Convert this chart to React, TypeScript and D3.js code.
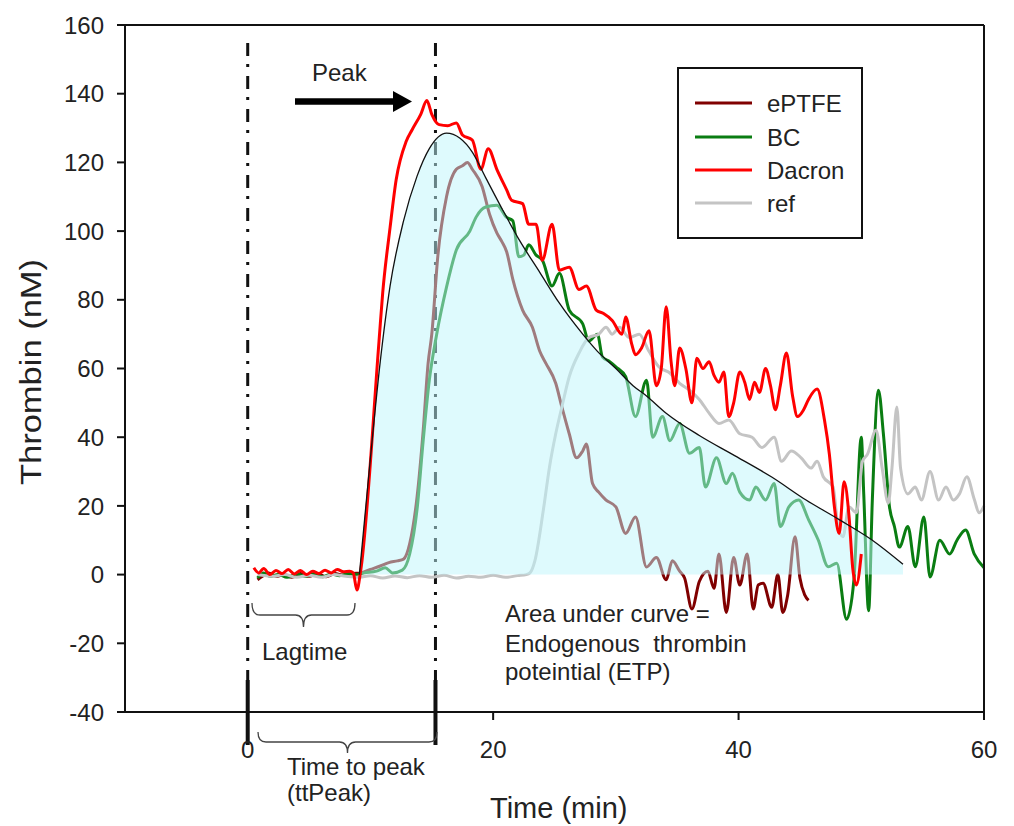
import React from "react";
import * as d3 from "d3";

const W = 1014;
const H = 826;

const xTicks = [0, 20, 40, 60];
const yTicks = [-40, -20, 0, 20, 40, 60, 80, 100, 120, 140, 160];

const seriesNames = ["ePTFE", "BC", "Dacron", "ref"];
const seriesColors = ["#800000", "#0a7d12", "#ff0000", "#c4c4c4"];

const ePTFE: [number, number][] = [
  [0.8, -1.5], [1.2, -0.5], [1.7, 0.5], [2.3, -0.5], [3.0, 0], [3.6, -0.8], [4.3, 0.3], [5.0, -0.5],
  [5.7, 0.2], [6.4, -0.6], [7.1, 0.3], [7.8, -0.2], [8.5, 0.3], [9.2, 0.5], [10.0, 1.5], [10.8, 2.5],
  [11.5, 3.5], [12.2, 4], [12.7, 4.5], [13.2, 9], [13.8, 22.6], [14.3, 42], [14.7, 61.5], [15.0, 70],
  [15.5, 93], [16.2, 110], [17.0, 118], [17.5, 119], [17.9, 120], [18.3, 118], [19.1, 113], [19.7, 105],
  [20.3, 99.5], [20.7, 97], [21.1, 94], [21.6, 86], [22.4, 77], [23.2, 72], [23.8, 65], [24.3, 61.5],
  [25.1, 55.7], [25.6, 48.8], [26.2, 41], [26.8, 34], [27.3, 36], [27.6, 38], [28.1, 26.5], [28.6, 24],
  [29.2, 21.7], [30.0, 19.7], [30.8, 12], [31.6, 16.8], [32.5, 2.2], [33.3, 5], [34.1, -1.5], [34.6, 4],
  [35.2, 1], [35.6, -1], [36.2, -10], [36.8, -2], [37.5, 1], [38.0, -4], [38.4, 6], [39.0, -11],
  [39.6, 5], [40.1, -3], [40.7, 6], [41.2, -10], [41.6, -3], [42.0, -2.5], [42.7, -9.5], [43.2, 0],
  [43.6, -11], [44.0, -6], [44.6, 11], [45.0, -1], [45.4, -6], [45.7, -7.5],
];

const BC: [number, number][] = [
  [0.8, -1], [1.3, 0.5], [1.8, -0.5], [2.5, 0], [3.2, -0.8], [4.0, 0.2], [4.7, -0.5], [5.4, 0.3],
  [6.1, -0.6], [6.8, 0.2], [7.5, -0.3], [8.2, 0.3], [8.8, 0], [9.5, 0.5], [10.5, 1], [11.2, 2],
  [11.8, 0.5], [12.6, 1.3], [13.2, 6], [13.8, 19], [14.3, 39], [14.8, 56.6], [15.4, 70], [16.2, 83.7],
  [17.0, 94.5], [18.1, 100], [18.6, 104], [19.4, 107], [20.3, 107.5], [21.1, 104], [21.6, 103], [22.1, 92.5],
  [22.5, 93], [22.9, 96], [23.5, 93], [24.0, 91.6], [24.8, 84], [25.4, 87.7], [26.2, 77], [27.3, 73],
  [27.8, 68], [28.5, 70], [28.9, 63.4], [29.5, 62], [30.0, 60.5], [30.8, 57.6], [31.6, 46], [32.5, 56.6],
  [33.0, 40], [33.8, 46], [34.4, 39], [35.2, 44], [36.0, 35.3], [36.8, 37], [37.3, 25.5], [38.2, 34],
  [39.0, 26.5], [39.5, 29.5], [40.1, 24], [40.9, 21.7], [41.4, 25.5], [42.2, 21.7], [42.9, 26.5], [43.4, 14],
  [44.1, 19.7], [44.9, 21.7], [45.7, 16], [46.5, 10], [47.3, 2.3], [48.0, 3.3], [48.8, -13], [49.4, -1.5],
  [50.0, 40], [50.2, 23.5], [50.6, -10.5], [50.9, 21.7], [51.4, 53.7], [51.8, 41], [52.3, 19.7], [52.7, 14],
  [53.1, 8], [53.8, 14], [54.4, 2.3], [55.1, 16.8], [55.6, -0.7], [56.4, 10], [57.2, 6], [57.8, 10],
  [58.5, 13], [59.2, 6], [60, 2],
];

const Dacron: [number, number][] = [
  [0.5, 2], [0.9, 0.5], [1.3, 1.8], [1.8, 0], [2.3, 1.2], [2.8, 0.3], [3.3, 1.5], [3.8, 0.2],
  [4.3, 1.2], [4.8, 0], [5.3, 1], [5.8, 0.3], [6.3, 1.3], [6.8, 0.5], [7.3, 1.5], [7.8, 0.8],
  [8.3, 1], [8.6, 0.5], [8.9, -4.5], [9.2, 1], [10.7, 68], [11.0, 82], [11.6, 101], [12.1, 115],
  [12.9, 126], [13.4, 129.5], [14.1, 134], [14.6, 138], [15.0, 134], [15.6, 131], [16.3, 130.7], [17.0, 131.5],
  [17.5, 128], [18.3, 126.5], [19.0, 118], [19.6, 124], [20.3, 118], [21.1, 112], [21.5, 109], [22.4, 108],
  [22.9, 102], [23.5, 102], [24.0, 91.5], [24.8, 102], [25.4, 88.6], [26.2, 89.5], [27.0, 83], [27.6, 84],
  [28.4, 77], [29.0, 76], [29.7, 74], [30.5, 70], [30.8, 75], [31.3, 67], [31.6, 64], [32.1, 66],
  [32.7, 71], [33.3, 55], [33.7, 60], [34.1, 78], [34.5, 62], [34.8, 55], [35.2, 66], [35.7, 60],
  [36.2, 50], [36.6, 63], [37.1, 60], [37.6, 62], [38.0, 58], [38.4, 56], [38.8, 59], [39.2, 46],
  [39.6, 50], [40.1, 59], [40.5, 56], [40.9, 51], [41.3, 56], [41.7, 53], [42.2, 60], [42.6, 55],
  [43.0, 48], [43.4, 55], [43.9, 64.5], [44.4, 52], [44.8, 46], [45.3, 48], [45.7, 51], [46.4, 54],
  [47.0, 45], [47.4, 35], [47.8, 20], [48.2, 12], [48.6, 27], [49.0, 17], [49.3, 2], [49.6, -3], [50.0, 6],
];

const ref: [number, number][] = [
  [0.8, 0], [2, -0.5], [3, 0], [4, -0.8], [5, -0.2], [6, -0.8], [7, 0], [8, -0.5], [9, -0.8],
  [10, -0.3], [11, -1], [12, -0.4], [13, -0.9], [14, -0.3], [15, -0.8], [16, -0.2], [17, -1],
  [18, -0.5], [19, -0.8], [20, -0.2], [21, -0.8], [22, -0.3], [22.7, 0], [23.0, 0.5], [23.4, 4],
  [24.1, 19], [24.6, 31.5], [25.1, 41], [25.6, 48.8], [26.2, 57.6], [27.0, 64.5], [27.8, 69], [28.6, 70],
  [29.2, 72], [29.7, 70], [30.3, 72], [31.1, 69], [31.9, 70], [32.7, 65], [33.5, 60.5], [34.4, 58.7],
  [35.2, 55.7], [36.0, 53.7], [36.8, 51], [37.6, 47], [38.4, 44], [39.2, 45], [40.1, 41], [41.1, 40],
  [41.9, 37], [42.9, 40], [43.5, 33], [44.3, 36], [45.1, 34], [45.9, 31], [46.4, 33], [46.9, 28.5],
  [47.7, 25.5], [48.1, 14], [48.5, 11], [49.0, 19.7], [49.6, 18], [50.1, 33], [50.5, 35], [51.2, 42],
  [51.7, 31], [52.2, 20.8], [52.5, 31], [52.9, 48.8], [53.2, 31], [53.8, 23.5], [54.4, 25.5], [54.9, 21.7],
  [55.6, 30], [56.3, 21.7], [56.9, 25.5], [57.5, 21.7], [58.0, 23.5], [58.6, 28.5], [59.2, 22], [59.6, 18], [60, 20],
];

const fitCurve: [number, number][] = [
  [9.1, 0], [10.0, 34], [10.8, 62], [11.6, 84], [12.7, 103], [13.8, 116], [14.8, 124], [16.2, 128.5],
  [17.3, 127], [18.3, 123], [19.4, 115.5], [20.8, 106], [22.2, 97], [23.8, 88], [25.4, 79], [27.3, 70],
  [28.5, 65], [30.0, 60], [31.4, 55], [32.5, 52], [34.1, 47], [36.8, 40.5], [39.5, 35], [42.7, 28.4],
  [45.5, 21.7], [48.2, 16], [50.9, 10], [53.4, 3],
];

const lagStart = 0;
const peakTime = 15.3;

const FONT = "'Liberation Sans', Arial, sans-serif";
const TXT = "#222";

export default function App() {
  const x = d3.scaleLinear().domain([-10, 60]).range([125, 984]);
  const y = d3.scaleLinear().domain([-40, 160]).range([712, 25]);

  const line = d3
    .line<[number, number]>()
    .x((d) => x(d[0]))
    .y((d) => y(d[1]))
    .curve(d3.curveMonotoneX);

  const fitLine = d3
    .line<[number, number]>()
    .x((d) => x(d[0]))
    .y((d) => y(d[1]))
    .curve(d3.curveMonotoneX);

  const fitArea = d3
    .area<[number, number]>()
    .x((d) => x(d[0]))
    .y0(() => y(0))
    .y1((d) => y(d[1]))
    .curve(d3.curveMonotoneX);

  const series = [ePTFE, BC, Dacron, ref];

  const brace = (x1: number, x2: number, y0: number, y1: number, y2: number) => {
    const xm = (x1 + x2) / 2;
    const r = 8;
    return `M${x1},${y0} Q${x1},${y1} ${x1 + r},${y1} L${xm - r},${y1} Q${xm},${y1} ${xm},${y2} Q${xm},${y1} ${xm + r},${y1} L${x2 - r},${y1} Q${x2},${y1} ${x2},${y0}`;
  };

  const xl = x(-10);
  const xr = x(60);
  const yt = y(160);
  const yb = y(-40);

  const legendRows = [103, 137, 170, 203];

  return (
    <svg
      width={W}
      height={H}
      style={{ position: "absolute", left: 0, top: 0, background: "#fff" }}
      fontFamily={FONT}
    >
      <rect x={0} y={0} width={W} height={H} fill="#fff" />

      {[lagStart, peakTime].map((t, i) => (
        <g key={"v" + i}>
          <line x1={x(t)} x2={x(t)} y1={43} y2={680} stroke="#111" strokeWidth={3} strokeDasharray="13,8,3,9" />
          <line x1={x(t)} x2={x(t)} y1={680} y2={745} stroke="#111" strokeWidth={4} />
        </g>
      ))}

      {[0, 1, 3].map((i) => (
        <path key={"s" + i} d={line(series[i]) || ""} fill="none" stroke={seriesColors[i]} strokeWidth={3} strokeLinejoin="round" />
      ))}

      <path d={fitArea(fitCurve) || ""} fill="#bdf5fb" fillOpacity={0.5} stroke="none" />

      <path d={line(Dacron) || ""} fill="none" stroke={seriesColors[2]} strokeWidth={3} strokeLinejoin="round" />

      <path d={fitLine(fitCurve) || ""} fill="none" stroke="#111" strokeWidth={1.3} />

      <line x1={xl} x2={xr} y1={yt} y2={yt} stroke="#111" strokeWidth={2} />
      <line x1={xr} x2={xr} y1={yt} y2={yb} stroke="#111" strokeWidth={2} />
      <line x1={xl} x2={xl} y1={yt} y2={yb} stroke="#111" strokeWidth={2} />
      <line x1={xl} x2={xr} y1={yb} y2={yb} stroke="#111" strokeWidth={2} />

      {yTicks.map((t) => (
        <g key={"yt" + t}>
          <line x1={xl - 8} x2={xl} y1={y(t)} y2={y(t)} stroke="#111" strokeWidth={2} />
          <text x={104} y={y(t)} dy="0.36em" textAnchor="end" fontSize={24} fill={TXT}>
            {t}
          </text>
        </g>
      ))}
      {xTicks.map((t) => (
        <g key={"xt" + t}>
          <line x1={x(t)} x2={x(t)} y1={yb} y2={yb + 8} stroke="#111" strokeWidth={2} />
          <text x={x(t)} y={758} textAnchor="middle" fontSize={24} fill={TXT}>
            {t}
          </text>
        </g>
      ))}

      <text x={490} y={818} fontSize={29} fill={TXT}>
        Time (min)
      </text>
      <text
        transform="translate(41,372) rotate(-90)"
        textAnchor="middle"
        fontSize={29}
        fill={TXT}
        textLength={226}
        lengthAdjust="spacingAndGlyphs"
      >
        Thrombin (nM)
      </text>

      <text x={312} y={81} fontSize={24} fill={TXT}>
        Peak
      </text>
      <line x1={295} x2={396} y1={101.5} y2={101.5} stroke="#000" strokeWidth={6.5} />
      <polygon points="393,91 412,101.5 393,112" fill="#000" />

      <path d={brace(252, 355, 603, 615, 627)} fill="none" stroke="#444" strokeWidth={1.3} />
      <text x={262} y={660} fontSize={24} fill={TXT}>
        Lagtime
      </text>
      <path d={brace(258, 437, 732, 742, 753)} fill="none" stroke="#444" strokeWidth={1.3} />
      <text x={287} y={775} fontSize={24} fill={TXT}>
        Time to peak
      </text>
      <text x={287} y={801} fontSize={24} fill={TXT}>
        (ttPeak)
      </text>

      <text x={505} y={622} fontSize={24} fill={TXT}>
        Area under curve =
      </text>
      <text x={505} y={652} fontSize={24} fill={TXT} style={{ whiteSpace: "pre" }}>
        {"Endogenous  thrombin"}
      </text>
      <text x={505} y={680} fontSize={24} fill={TXT}>
        poteintial (ETP)
      </text>

      <rect x={678} y={68} width={184} height={170} fill="#fff" stroke="#111" strokeWidth={2} />
      {seriesNames.map((n, i) => (
        <g key={"lg" + n}>
          <line x1={695} x2={752} y1={legendRows[i]} y2={legendRows[i]} stroke={seriesColors[i]} strokeWidth={3} />
          <text x={767} y={legendRows[i]} dy="0.36em" fontSize={24} fill={TXT}>
            {n}
          </text>
        </g>
      ))}
    </svg>
  );
}
